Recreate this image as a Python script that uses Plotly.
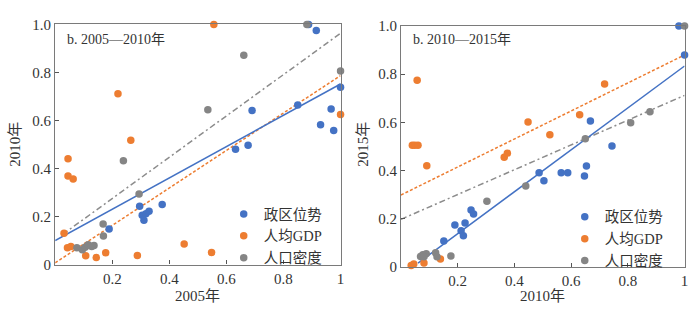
import plotly.graph_objects as go

# ---------------- data: panel 1 (2005 -> 2010) ----------------
p1_blue_x = [0.189, 0.296, 0.305, 0.318, 0.329, 0.311, 0.375, 0.632, 0.676, 0.690, 0.850, 0.888, 0.915, 0.930, 0.967, 0.976, 1.0]
p1_blue_y = [0.148, 0.243, 0.205, 0.212, 0.222, 0.185, 0.250, 0.480, 0.497, 0.642, 0.664, 1.0, 0.975, 0.582, 0.648, 0.558, 0.738]
p1_orange_x = [0.556, 0.220, 0.265, 1.0, 0.045, 0.045, 0.063, 0.031, 0.043, 0.055, 0.107, 0.113, 0.144, 0.177, 0.288, 0.452, 0.548]
p1_orange_y = [1.0, 0.711, 0.518, 0.625, 0.441, 0.369, 0.356, 0.130, 0.070, 0.075, 0.037, 0.080, 0.029, 0.049, 0.038, 0.086, 0.050]
p1_gray_x = [0.882, 0.661, 1.0, 0.535, 0.239, 0.294, 0.168, 0.169, 0.076, 0.095, 0.105, 0.116, 0.136, 0.128]
p1_gray_y = [1.0, 0.872, 0.806, 0.645, 0.432, 0.294, 0.169, 0.119, 0.070, 0.062, 0.072, 0.082, 0.079, 0.075]
# trend lines: (x_start, x_end, intercept, slope)
p1_fit_blue = (0.0, 1.0, 0.100, 0.652)
p1_fit_orange = (0.0, 1.0, 0.007, 0.780)
p1_fit_gray = (0.026, 1.0, 0.103, 0.860)

# ---------------- data: panel 2 (2010 -> 2015) ----------------
p2_blue_x = [0.980, 1.0, 0.668, 0.744, 0.487, 0.504, 0.565, 0.588, 0.654, 0.647, 0.190, 0.226, 0.247, 0.256, 0.212, 0.220, 0.151]
p2_blue_y = [1.0, 0.880, 0.605, 0.502, 0.390, 0.357, 0.390, 0.390, 0.419, 0.377, 0.173, 0.182, 0.236, 0.219, 0.149, 0.129, 0.107]
p2_orange_x = [0.057, 0.040, 0.049, 0.060, 0.091, 0.448, 0.525, 0.630, 0.718, 0.364, 0.375, 0.036, 0.045, 0.081, 0.139]
p2_orange_y = [0.775, 0.505, 0.505, 0.505, 0.420, 0.601, 0.548, 0.631, 0.759, 0.455, 0.472, 0.005, 0.011, 0.015, 0.032]
p2_gray_x = [1.0, 0.878, 0.810, 0.650, 0.440, 0.303, 0.176, 0.069, 0.077, 0.089, 0.081, 0.122, 0.127]
p2_gray_y = [1.0, 0.644, 0.598, 0.532, 0.335, 0.272, 0.045, 0.043, 0.050, 0.054, 0.041, 0.058, 0.041]
p2_fit_blue = (0.060, 1.0, -0.037, 0.871)
p2_fit_orange = (0.0, 1.0, 0.298, 0.582)
p2_fit_gray = (0.0, 1.0, 0.197, 0.515)

series_names = ["政区位势", "人均GDP", "人口密度"]
panel_titles = ["b. 2005—2010年", "b. 2010—2015年"]
x_titles = ["2005年", "2010年"]
y_titles = ["2010年", "2015年"]
x_tickvals = [0.2, 0.4, 0.6, 0.8, 1.0]
x_ticktext = ["0.2", "0.4", "0.6", "0.8", "1"]
y_tickvals = [0, 0.2, 0.4, 0.6, 0.8, 1.0]
y_ticktext = ["0", "0.2", "0.4", "0.6", "0.8", "1.0"]

# ---------------- styling ----------------
BLUE = "#4472C4"
ORANGE = "#ED7D31"
GRAY = "#858585"
LINEGRAY = "#8C8C8C"
FONT = "Liberation Serif, Noto Sans CJK SC, serif"
W, H = 700, 321

fig = go.Figure()

panels = [
    dict(xa="x", ya="y", legend="legend",
         pts=[(p1_blue_x, p1_blue_y, BLUE), (p1_orange_x, p1_orange_y, ORANGE), (p1_gray_x, p1_gray_y, GRAY)],
         fits=[(p1_fit_gray, LINEGRAY, "dashdot"), (p1_fit_orange, ORANGE, "dash"), (p1_fit_blue, BLUE, "solid")]),
    dict(xa="x2", ya="y2", legend="legend2",
         pts=[(p2_blue_x, p2_blue_y, BLUE), (p2_orange_x, p2_orange_y, ORANGE), (p2_gray_x, p2_gray_y, GRAY)],
         fits=[(p2_fit_gray, LINEGRAY, "dashdot"), (p2_fit_orange, ORANGE, "dash"), (p2_fit_blue, BLUE, "solid")]),
]

for p in panels:
    for fit, col, dash in p["fits"]:
        x0, x1, b, m = fit
        d = "6px,3px,2px,3px" if dash == "dashdot" else ("3px,2px" if dash == "dash" else "solid")
        fig.add_trace(go.Scatter(x=[x0, x1], y=[b + m * x0, b + m * x1], mode="lines",
                                 line=dict(color=col, width=1.5, dash=d),
                                 xaxis=p["xa"], yaxis=p["ya"], showlegend=False,
                                 hoverinfo="skip", cliponaxis=False))
    for (xs, ys, col), name in zip(p["pts"], series_names):
        fig.add_trace(go.Scatter(x=xs, y=ys, mode="markers", name=name,
                                 marker=dict(color=col, size=7.5),
                                 xaxis=p["xa"], yaxis=p["ya"], legend=p["legend"],
                                 cliponaxis=False))

axis_common = dict(range=[0, 1], showgrid=False, zeroline=False, showline=True, mirror=True,
                   linecolor="#7A7A7A", linewidth=1.2, ticks="inside", ticklen=4,
                   tickcolor="#555", tickfont=dict(family=FONT, size=15, color="#333"))

L1, R1, T1, B1 = 55.5, 342.5, 17.3, 270
L2, R2, T2, B2 = 403.3, 688.5, 19, 272.3

legend_font = dict(family=FONT, size=14.5, color="#333")

fig.update_layout(
    width=W, height=H, margin=dict(l=0, r=0, t=0, b=0),
    plot_bgcolor="white", paper_bgcolor="white",
    font=dict(family=FONT, size=15, color="#333"),
    xaxis=dict(domain=[L1 / W, R1 / W], anchor="y", tickvals=x_tickvals, ticktext=x_ticktext, **axis_common),
    yaxis=dict(domain=[1 - B1 / H, 1 - T1 / H], anchor="x", tickvals=y_tickvals, ticktext=y_ticktext, **axis_common),
    xaxis2=dict(domain=[L2 / W, R2 / W], anchor="y2", tickvals=x_tickvals, ticktext=x_ticktext, **axis_common),
    yaxis2=dict(domain=[1 - B2 / H, 1 - T2 / H], anchor="x2", tickvals=y_tickvals, ticktext=y_ticktext, **axis_common),
    legend=dict(x=225 / W, y=1 - 200 / H, xanchor="left", yanchor="top", bgcolor="rgba(0,0,0,0)",
                font=legend_font, tracegroupgap=0, itemwidth=30),
    legend2=dict(x=568 / W, y=1 - 203 / H, xanchor="left", yanchor="top", bgcolor="rgba(0,0,0,0)",
                 font=legend_font, tracegroupgap=0, itemwidth=30),
    showlegend=True,
)

ann = []
for i, (t, xt, yt) in enumerate(zip(panel_titles, x_titles, y_titles)):
    L, R, T, B = (L1, R1, T1, B1) if i == 0 else (L2, R2, T2, B2)
    ann.append(dict(text=t, x=(L + 10) / W, y=1 - 33 / H, xref="paper", yref="paper",
                    xanchor="left", yanchor="middle", showarrow=False, font=dict(size=14)))
    ann.append(dict(text=xt, x=(L + R) / 2 / W, y=1 - 303 / H, xref="paper", yref="paper",
                    xanchor="center", yanchor="middle", showarrow=False, font=dict(size=15)))
    ann.append(dict(text=yt, x=(15 if i == 0 else 365) / W, y=1 - 143 / H, xref="paper", yref="paper",
                    xanchor="center", yanchor="middle", showarrow=False, textangle=-90, font=dict(size=15)))
fig.update_layout(annotations=ann)

fig.write_html("out.html")
